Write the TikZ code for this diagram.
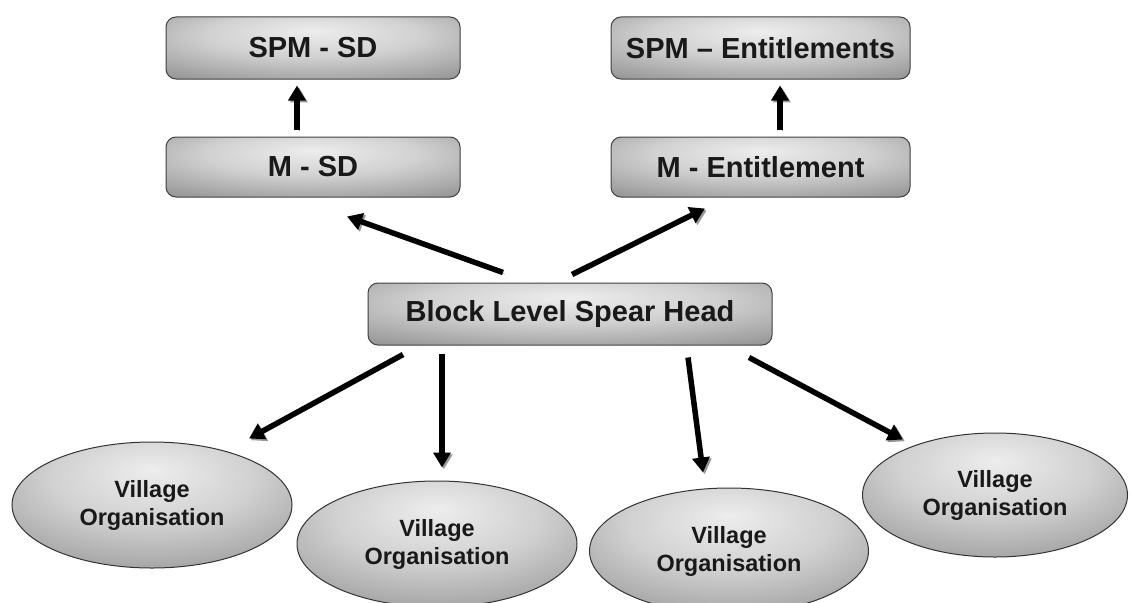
\documentclass[tikz,border=0pt]{standalone}
\usepackage{fontspec}
\setmainfont{Liberation Sans}
\usetikzlibrary{arrows.meta,shapes.geometric,calc}
\pgfdeclareradialshading{softgray}{\pgfpoint{0bp}{14bp}}{%
  color(0bp)=(black!7);
  color(18bp)=(black!18);
  color(40bp)=(black!42);
  color(58bp)=(black!56);
  color(80bp)=(black!62)}
\tikzset{
  boxnode/.style={draw=black!75, line width=1pt, rounded corners=10pt,
    shading=softgray, minimum height=62pt, inner sep=0pt,
    font=\fontsize{29}{32}\selectfont\bfseries, text=black!90},
  vonode/.style={ellipse, draw=black!80, line width=1pt, shading=softgray,
    minimum width=280pt, minimum height=126pt, inner sep=0pt, align=center,
    font=\fontsize{23.5}{28}\selectfont\bfseries, text=black!90},
  arr/.style={line width=5.5pt, -{Triangle[length=15pt,width=17pt]},
    preaction={draw=black!40, transform canvas={xshift=1.8pt,yshift=-1.8pt}}}
}
\begin{document}
\begin{tikzpicture}[x=1pt,y=-1pt]
\useasboundingbox (0,0) rectangle (1131,602);
\clip (0,0) rectangle (1131,602);
\node[boxnode, minimum width=294pt] (spmsd) at (313,48) {SPM - SD};
\node[boxnode, minimum width=299pt] (spment) at (760.5,48) {SPM -- Entitlements};
\node[boxnode, minimum width=294pt, minimum height=60pt] (msd) at (313,167) {M - SD};
\node[boxnode, minimum width=299pt, minimum height=60pt] (ment) at (760.5,167) {M - Entitlement};
\node[boxnode, minimum width=404pt] (block) at (570,314) {Block Level Spear Head};
\node[vonode] (vo1) at (152,505) {Village\\Organisation};
\node[vonode] (vo2) at (437,544) {Village\\Organisation};
\node[vonode, minimum width=279pt] (vo3) at (729,551) {Village\\Organisation};
\node[vonode, minimum width=265pt, minimum height=124pt] (vo4) at (995,495) {Village\\Organisation};
% vertical arrows
\draw[arr] ($(msd.north)+(-16,-7)$) -- ($(spmsd.south)+(-16,6)$);
\draw[arr] ($(ment.north)+(19.5,-7)$) -- ($(spment.south)+(19.5,6)$);
% upward diagonal arrows
\draw[arr] ($(block.north)+(-67,-10)$) -- ($(msd.south)+(34,19)$);
\draw[arr] ($(block.north)+(2,-8)$) -- ($(ment.south)+(-55.5,11)$);
% downward arrows
\draw[arr] ($(block.south)+(-167,9)$) -- ($(vo1.north)+(97,-3)$);
\draw[arr] ($(block.south)+(-128,8)$) -- ($(vo2.north)+(5,-13)$);
\draw[arr] ($(block.south)+(118,12)$) -- ($(vo3.north)+(-26,-15)$);
\draw[arr] ($(block.south)+(179,12)$) -- ($(vo4.north)+(-92,7)$);
\end{tikzpicture}
\end{document}
